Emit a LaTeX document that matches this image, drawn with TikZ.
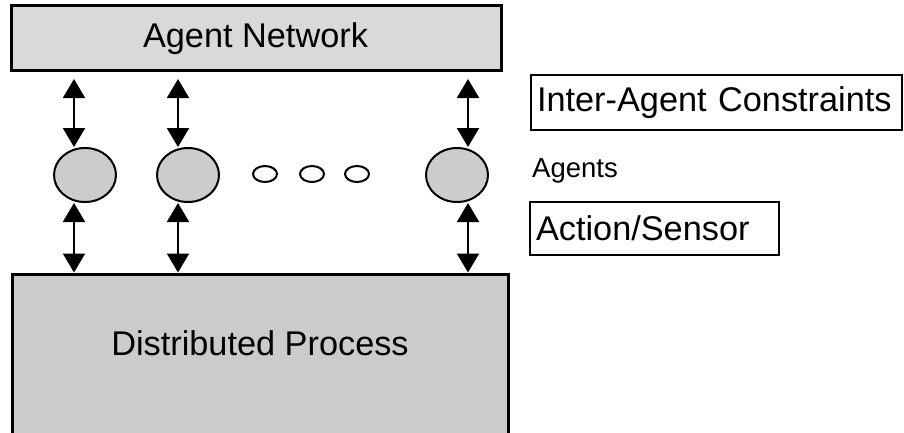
\documentclass[tikz,border=0pt]{standalone}
\usepackage{fontspec}
\setmainfont{Liberation Sans}
\usetikzlibrary{shapes.geometric,arrows.meta}
\definecolor{netgray}{RGB}{217,217,217}
\definecolor{procgray}{RGB}{203,203,203}
\definecolor{agentgray}{RGB}{204,204,204}
\begin{document}
\begin{tikzpicture}[x=1pt,y=-1pt,
  bigbox/.style={draw, line width=3pt, inner sep=0pt},
  agent/.style={ellipse, draw, line width=2pt, fill=agentgray,
    minimum width=62pt, minimum height=54pt, inner sep=0pt},
  dotnode/.style={ellipse, draw, line width=2pt, fill=white,
    minimum width=24pt, minimum height=16pt, inner sep=0pt},
  legend/.style={draw, line width=1.5pt, inner ysep=0pt, align=left},
  dbl/.style={line width=2pt,
    {Triangle[length=19pt,width=22pt]}-{Triangle[length=19pt,width=22pt]}},
  big/.style={font=\fontsize{34.3}{40}\selectfont},
  small/.style={font=\fontsize{27.5}{32}\selectfont}]
\useasboundingbox (0,0) rectangle (904,432);
\clip (0,0) rectangle (904,432);

% network and process blocks
\node[bigbox, fill=netgray, minimum width=490pt, minimum height=65pt]
  (net) at (256,37.5) {};
\node[big, anchor=base, inner sep=0pt] (netlabel) at (255.5,47) {Agent Network};
\node[bigbox, fill=procgray, minimum width=496pt, minimum height=170pt]
  (proc) at (260,359) {};
\node[big, anchor=base] (proclabel) at (260,355) {Distributed Process};

% agents
\node[agent] (a1) at (85,175) {};
\node[agent] (a2) at (188,175) {};
\node[agent] (a3) at (457,175) {};
\node[dotnode] (d1) at (265,174) {};
\node[dotnode] (d2) at (312,174) {};
\node[dotnode] (d3) at (357,174) {};

% links: network <-> agents <-> process
\draw[dbl, shorten <=7.5pt] ([xshift=-11pt]a1.north |- net.south)
  -- ([xshift=-11pt]a1.north);
\draw[dbl, shorten <=7.5pt] ([xshift=-10pt]a2.north |- net.south)
  -- ([xshift=-10pt]a2.north);
\draw[dbl, shorten <=7.5pt] ([xshift=11pt]a3.north |- net.south)
  -- ([xshift=11pt]a3.north);
\draw[dbl] ([xshift=-11pt]a1.south) -- ([xshift=-11pt]a1.south |- proc.north);
\draw[dbl] ([xshift=-10pt]a2.south) -- ([xshift=-10pt]a2.south |- proc.north);
\draw[dbl] ([xshift=11pt]a3.south) -- ([xshift=11pt]a3.south |- proc.north);

% legend
\node[legend, big, inner xsep=6pt, text width=359pt, minimum height=55pt]
  (lc) at (716.5,102.5) {Inter-Agent Constraints};
\node[small, anchor=base west, inner sep=0pt] (la) at (532,177) {Agents};
\node[legend, big, inner xsep=6pt, text width=237pt, minimum height=53pt]
  (ls) at (654.5,228.5) {Action/Sensor};
\end{tikzpicture}
\end{document}
